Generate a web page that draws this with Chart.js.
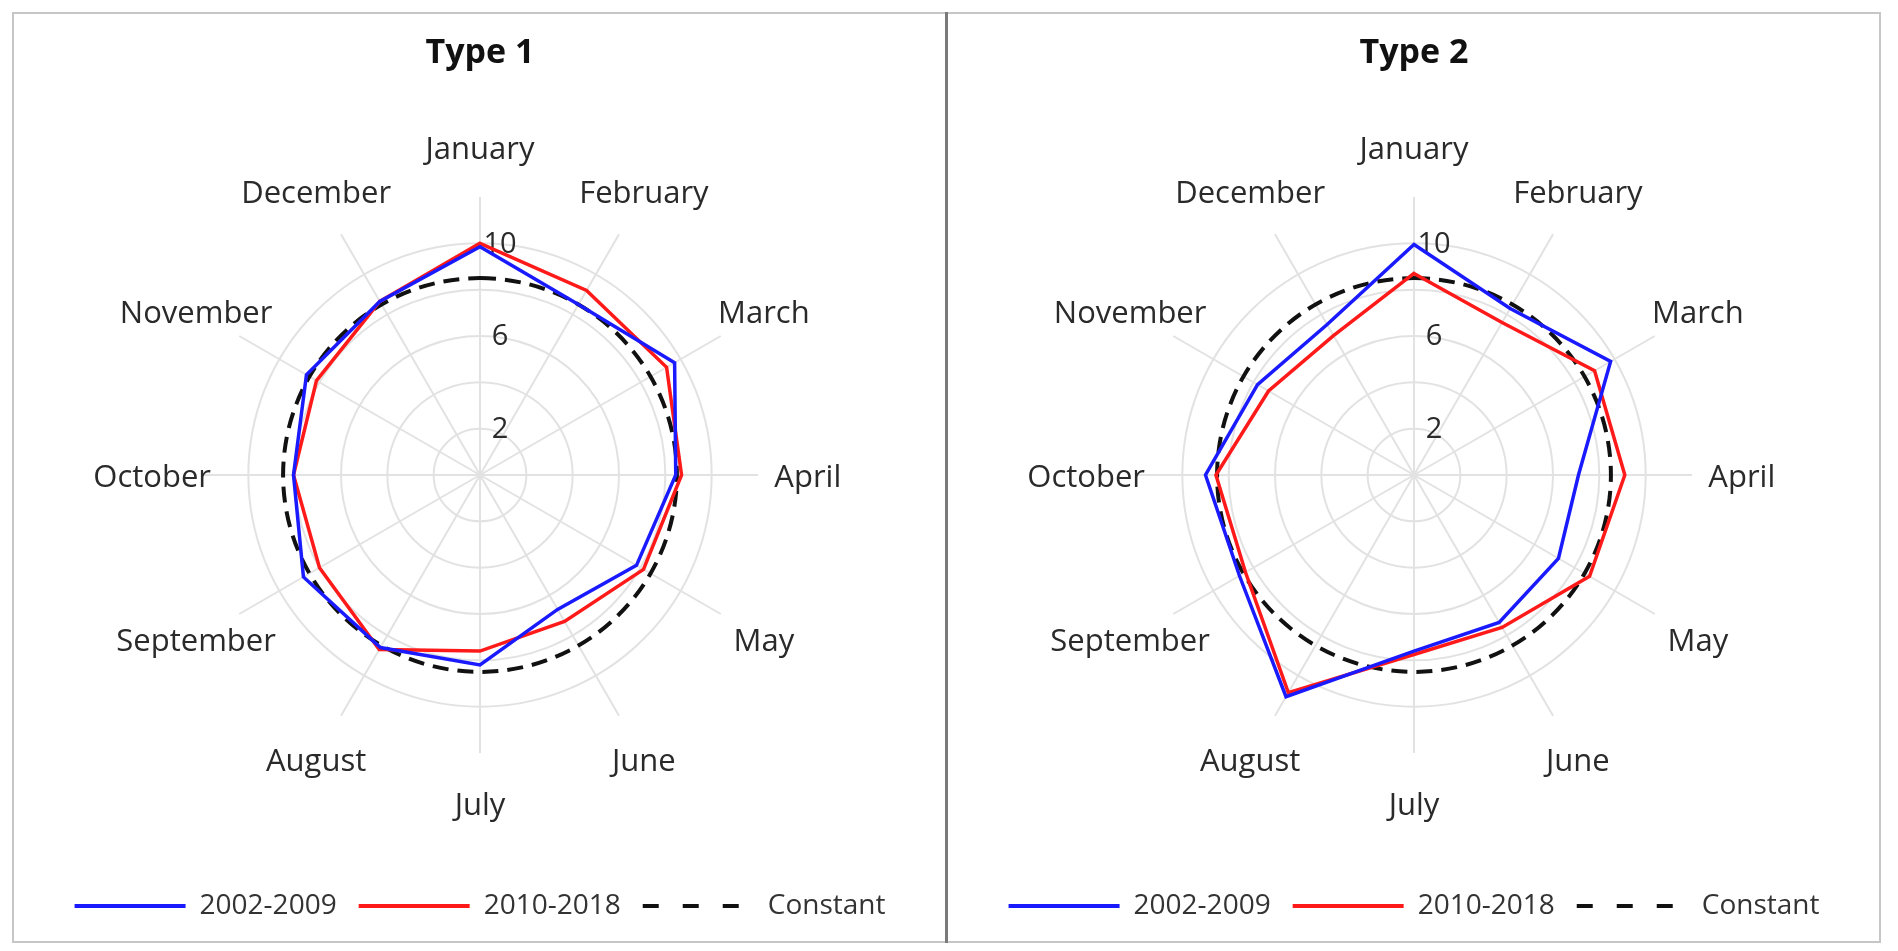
<!DOCTYPE html>
<html>
<head>
<meta charset="utf-8">
<script src="https://cdn.jsdelivr.net/npm/chart.js@4.4.1/dist/chart.umd.min.js"></script>
<style>
  body { margin: 0; background: #fff; }
  #frame { position: absolute; left: 12px; top: 12px; width: 1869px; height: 931px; border: 2px solid #c6c6c6; box-sizing: border-box; }
  #divider { position: absolute; left: 945px; top: 12px; width: 3px; height: 931px; background: #7a7a7a; }
  canvas { position: absolute; top: 13px; }
  #type1Chart { left: 13px; }
  #type2Chart { left: 947px; }
</style>
</head>
<body>
<div id="frame"></div>
<div id="divider"></div>
<canvas id="type1Chart" width="934" height="929"></canvas>
<canvas id="type2Chart" width="934" height="929"></canvas>
<script>
const months = ['January', 'February', 'March', 'April', 'May', 'June', 'July', 'August', 'September', 'October', 'November', 'December'];
const seriesNames = ['2002-2009', '2010-2018', 'Constant'];
const tickLabels = [2, 6, 10];

const type1Early = [9.85, 8.5, 9.7, 8.45, 7.8, 6.7, 8.2, 8.6, 8.8, 8.05, 8.65, 8.65];
const type1Late = [10.0, 9.2, 9.3, 8.7, 8.15, 7.3, 7.6, 8.7, 8.0, 8.05, 8.15, 8.65];
const type2Early = [9.95, 8.3, 9.8, 7.1, 7.2, 7.35, 7.6, 11.05, 8.7, 9.0, 7.8, 7.5];
const type2Late = [8.7, 7.6, 9.0, 9.1, 8.75, 7.6, 7.75, 10.85, 8.4, 8.55, 7.25, 6.95];
const constantLevel = [8.5, 8.5, 8.5, 8.5, 8.5, 8.5, 8.5, 8.5, 8.5, 8.5, 8.5, 8.5];

const fontFamily = '"Open Sans", sans-serif';
const gridColor = '#e2e2e2';
const labelDistance = 14.15; // in scale units, labels are centred on this circle

// month names and radial tick labels, placed with the radial scale
const radarLabels = {
  id: 'radarLabels',
  beforeDatasetsDraw(chart) {
    const scale = chart.scales.r;
    const ctx = chart.ctx;
    ctx.save();
    ctx.fillStyle = '#2a2a2a';
    ctx.textAlign = 'center';
    ctx.textBaseline = 'middle';
    ctx.font = '29px ' + fontFamily;
    tickLabels.forEach(v => {
      ctx.fillText(String(v), scale.xCenter + 20, scale.yCenter - scale.getDistanceFromCenterForValue(v) + 1);
    });
    ctx.font = '31px ' + fontFamily;
    months.forEach((m, i) => {
      const p = scale.getPointPosition(i, scale.getDistanceFromCenterForValue(labelDistance));
      ctx.fillText(m, p.x, p.y + 3);
    });
    ctx.restore();
  }
};

function makeRadar(canvasId, title, early, late) {
  const ctx = document.getElementById(canvasId).getContext('2d');
  return new Chart(ctx, {
    type: 'radar',
    data: {
      labels: months,
      datasets: [{
        label: seriesNames[0],
        data: early,
        borderColor: '#1a1aff',
        borderWidth: 3.5,
        fill: false,
        pointRadius: 0,
        borderJoinStyle: 'miter'
      }, {
        label: seriesNames[1],
        data: late,
        borderColor: '#ff1a1a',
        borderWidth: 3.5,
        fill: false,
        pointRadius: 0,
        borderJoinStyle: 'miter'
      }, {
        label: seriesNames[2],
        data: constantLevel,
        borderColor: '#111',
        borderWidth: 4,
        borderDash: [16, 9],
        tension: 0.35,
        fill: false,
        pointRadius: 0
      }]
    },
    options: {
      responsive: false,
      animation: false,
      layout: {
        padding: { bottom: 12 }
      },
      plugins: {
        title: {
          display: true,
          text: title,
          color: '#111',
          font: { family: fontFamily, size: 34, weight: 'bold' },
          padding: { top: 20, bottom: 124 }
        },
        legend: {
          position: 'bottom',
          title: {
            display: true,
            text: '',
            font: { size: 10 },
            padding: { top: 104, bottom: 0 }
          },
          labels: {
            usePointStyle: true,
            pointStyle: 'line',
            pointStyleWidth: 111,
            padding: 22,
            color: '#333',
            font: { family: fontFamily, size: 28 },
            generateLabels(chart) {
              const items = Chart.defaults.plugins.legend.labels.generateLabels(chart);
              items.forEach(item => {
                item.lineWidth = 4;
                if (item.text === seriesNames[2]) {
                  item.lineDash = [16, 24];
                  item.lineDashOffset = 0;
                }
              });
              return items;
            }
          }
        },
        tooltip: { enabled: false }
      },
      scales: {
        r: {
          min: 0,
          max: 12,
          ticks: {
            stepSize: 2,
            display: false
          },
          pointLabels: {
            display: false
          },
          grid: {
            circular: true,
            lineWidth: 2,
            color: c => (c.tick && c.tick.value === 12) ? 'rgba(0,0,0,0)' : gridColor
          },
          angleLines: {
            color: gridColor,
            lineWidth: 2
          }
        }
      }
    },
    plugins: [radarLabels]
  });
}

makeRadar('type1Chart', 'Type 1', type1Early, type1Late);
makeRadar('type2Chart', 'Type 2', type2Early, type2Late);
</script>
</body>
</html>
